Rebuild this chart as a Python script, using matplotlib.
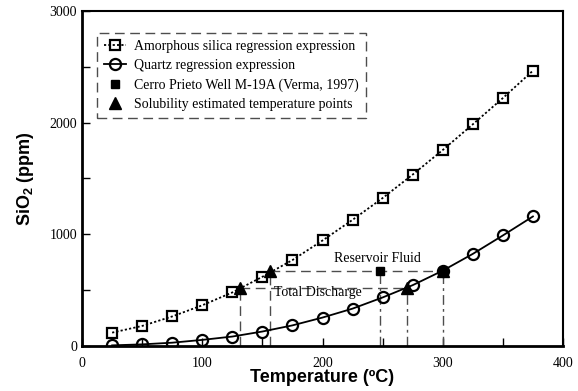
import numpy as np
import matplotlib
matplotlib.use("Agg")
import matplotlib.pyplot as plt
from matplotlib.lines import Line2D
from matplotlib.ticker import MultipleLocator

plt.rcParams['font.family'] = ['Liberation Serif', 'DejaVu Serif']
plt.rcParams['mathtext.fontset'] = 'custom'
plt.rcParams['mathtext.bf'] = 'Liberation Sans:bold'
plt.rcParams['mathtext.rm'] = 'Liberation Sans:bold'

# regression curves
temps = [25, 50, 75, 100, 125, 150, 175, 200, 225, 250, 275, 300, 325, 350, 375]
amorphous = [120, 180, 265, 365, 480, 620, 770, 945, 1130, 1325, 1535, 1755, 1985, 2220, 2465]
quartz = [6, 15, 30, 55, 85, 130, 185, 255, 335, 435, 545, 675, 825, 990, 1160]

# Cerro Prieto well M-19A
well_t = [248, 300]
well_sio2 = [670, 670]

# solubility estimated temperature points
est_t = [131, 156, 270, 300]
est_sio2 = [520, 670, 520, 670]

fig = plt.figure(figsize=(5.78, 3.91), dpi=100)
ax = fig.add_axes([0.142, 0.115, 0.832, 0.857])

gray = '0.3'
# guide lines
ax.plot([est_t[1], est_t[3]], [est_sio2[1], est_sio2[3]], color=gray, lw=1, dashes=(7, 4))
ax.plot([est_t[0], est_t[2]], [est_sio2[0], est_sio2[2]], color=gray, lw=1, dashes=(7, 4))
for t, s in zip(est_t[:2], est_sio2[:2]):
    ax.plot([t, t], [0, s], color=gray, lw=1, dashes=(7, 4))
for t, s in [(well_t[0], well_sio2[0]), (est_t[2], est_sio2[2]), (est_t[3], est_sio2[3])]:
    ax.plot([t, t], [0, s], color=gray, lw=1, dashes=(7, 3, 2, 3))

sq = dict(marker='s', ms=7, mfc='none', mec='black', mew=1.6)
ci = dict(marker='o', ms=8, mfc='none', mec='black', mew=1.6)
ax.plot(temps, amorphous, color='black', lw=1.3, ls=(0, (1.2, 1.2)), **sq)
ax.plot(temps, quartz, color='black', lw=1.3, ls='-', **ci)
ax.plot(well_t, well_sio2, ls='none', marker='s', ms=6, color='black')
ax.plot(est_t, est_sio2, ls='none', marker='^', ms=8, color='black')

ax.text(246, 780, 'Reservoir Fluid', ha='center', va='center', fontsize=10)
ax.text(196, 475, 'Total Discharge', ha='center', va='center', fontsize=10)

ax.set_xlim(0, 400)
ax.set_ylim(0, 3000)
ax.xaxis.set_major_locator(MultipleLocator(100))
ax.xaxis.set_minor_locator(MultipleLocator(50))
ax.yaxis.set_major_locator(MultipleLocator(1000))
ax.yaxis.set_minor_locator(MultipleLocator(500))
ax.tick_params(which='both', direction='in', length=6, width=1, labelsize=10,
               top=False, right=False)
ax.tick_params(axis='x', pad=8)
for sp in ax.spines.values():
    sp.set_linewidth(1.5)
ax.spines['left'].set_linewidth(2)
ax.spines['bottom'].set_linewidth(2)

ax.set_xlabel('Temperature (ºC)', family='Liberation Sans', fontweight='bold',
              fontsize=13, labelpad=-1)
ax.set_ylabel(r'SiO$_\mathbf{2}$ (ppm)', family='Liberation Sans', fontweight='bold',
              fontsize=13, labelpad=10)

handles = [
    Line2D([], [], color='black', lw=1.3, ls=(0, (1.2, 1.2)), **sq),
    Line2D([], [], color='black', lw=1.3, **ci),
    Line2D([], [], ls='none', marker='s', ms=6, color='black'),
    Line2D([], [], ls='none', marker='^', ms=8, color='black'),
]
labels = ['Amorphous silica regression expression',
          'Quartz regression expression',
          'Cerro Prieto Well M-19A (Verma, 1997)',
          'Solubility estimated temperature points']
leg = ax.legend(handles, labels, loc='upper left', bbox_to_anchor=(0.031, 0.934),
                fontsize=10, handlelength=1.6, handletextpad=0.6, labelspacing=0.45,
                borderpad=0.5, fancybox=False, framealpha=1, borderaxespad=0)
frame = leg.get_frame()
frame.set_edgecolor('0.3')
frame.set_linewidth(1)
frame.set_linestyle((0, (7, 4)))

fig.savefig('out.png', dpi=100)
